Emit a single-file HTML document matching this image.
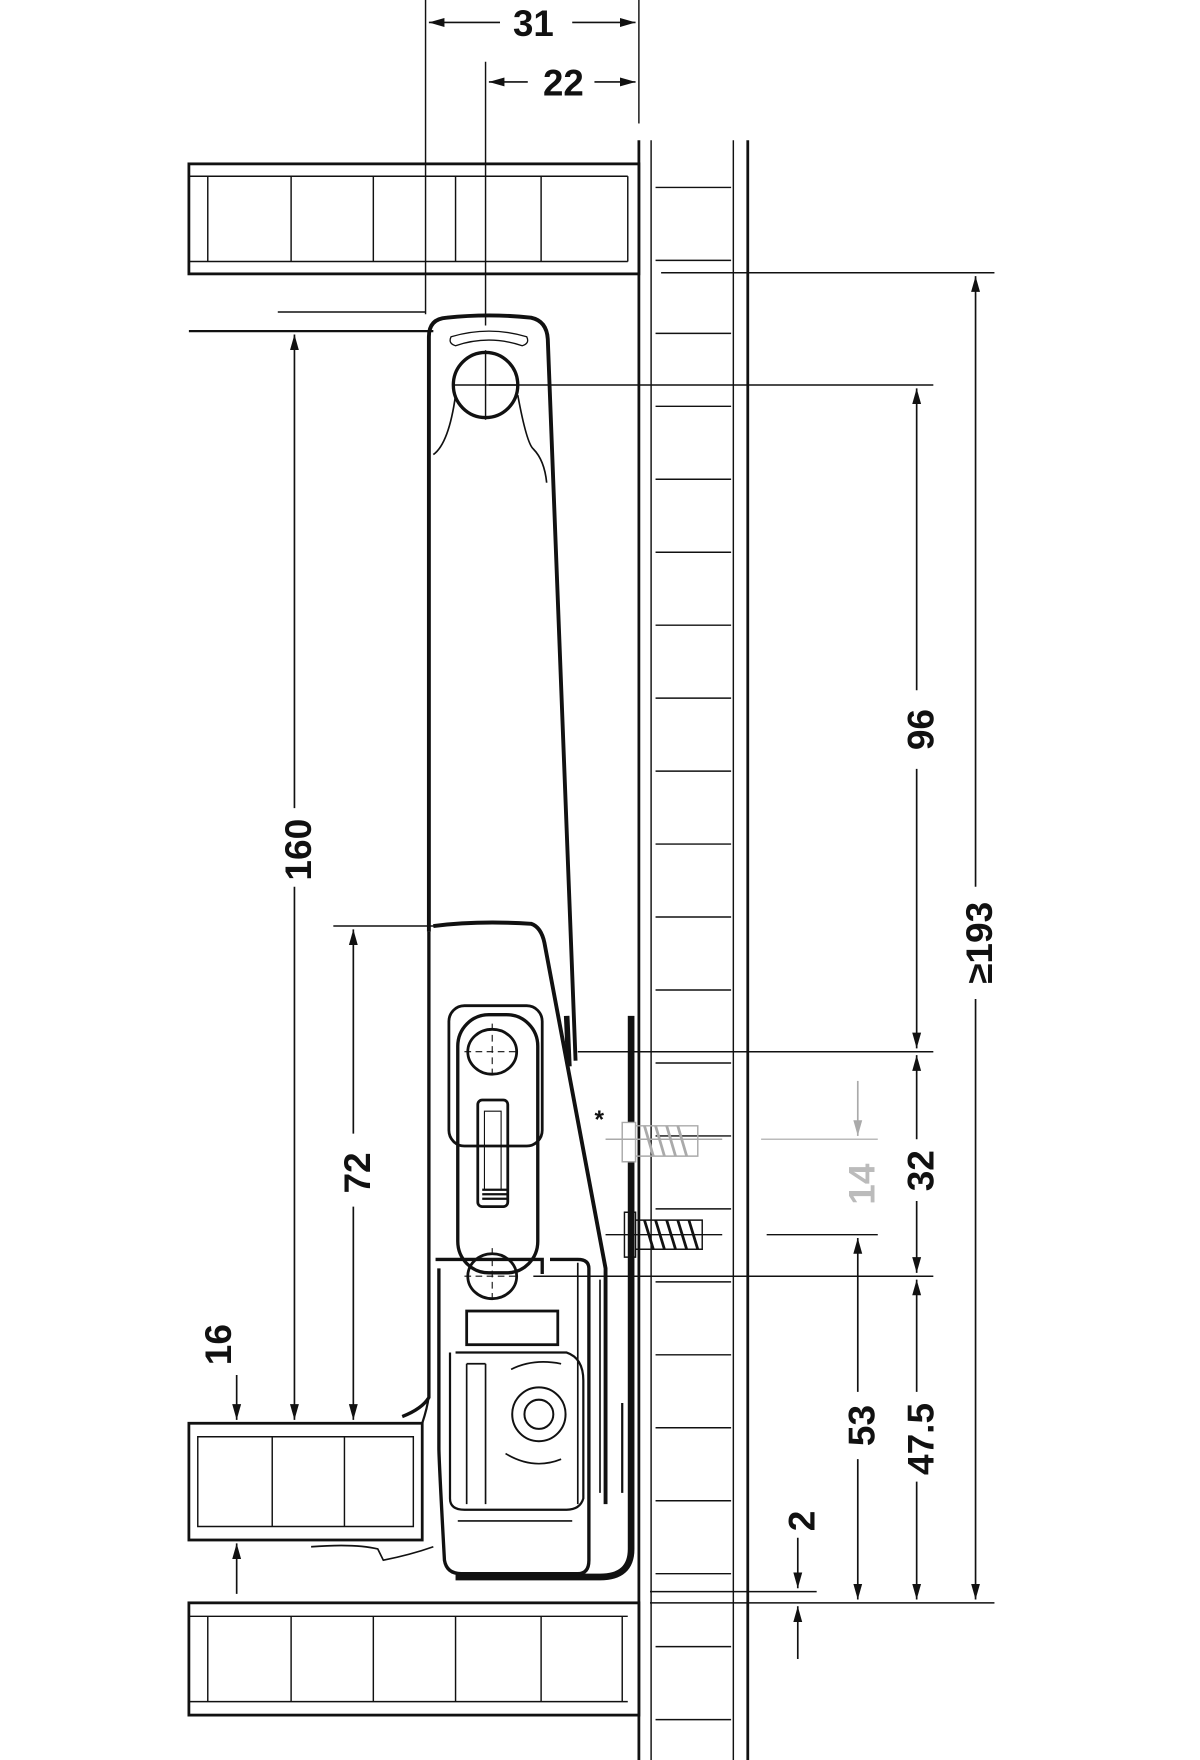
<!DOCTYPE html>
<html><head><meta charset="utf-8"><style>
html,body{margin:0;padding:0;background:#fff;}
svg{display:block;}
text{font-family:"Liberation Sans",sans-serif;font-weight:bold;fill:#111;}
</style></head><body>
<svg width="1200" height="1760" viewBox="0 0 1080 1568" preserveAspectRatio="none" xmlns="http://www.w3.org/2000/svg">
<defs>
<marker id="a" viewBox="0 0 14 10" refX="14" refY="5" markerWidth="14" markerHeight="10" orient="auto-start-reverse" markerUnits="userSpaceOnUse"><path d="M0,1 L14,5 L0,9 z" fill="#111"/></marker>
<marker id="g" viewBox="0 0 14 10" refX="14" refY="5" markerWidth="14" markerHeight="10" orient="auto-start-reverse" markerUnits="userSpaceOnUse"><path d="M0,1 L14,5 L0,9 z" fill="#aaa"/></marker>
</defs>
<g stroke="#111" fill="none" stroke-width="1.3">
<line x1="383" y1="0" x2="383" y2="280"/>
<line x1="437" y1="55" x2="437" y2="290"/>
<line x1="575" y1="0" x2="575" y2="110"/>
<line x1="386" y1="20" x2="450" y2="20" marker-start="url(#a)" stroke-width="1.5"/>
<line x1="515" y1="20" x2="572" y2="20" marker-end="url(#a)" stroke-width="1.5"/>
<line x1="440" y1="73" x2="475" y2="73" marker-start="url(#a)" stroke-width="1.5"/>
<line x1="535" y1="73" x2="572" y2="73" marker-end="url(#a)" stroke-width="1.5"/>
<rect x="170" y="146" width="405" height="98" stroke-width="2.5"/>
<line x1="170" y1="157" x2="565" y2="157"/>
<line x1="170" y1="233" x2="565" y2="233"/>
<line x1="565" y1="157" x2="565" y2="233"/>
<path d="M187 157V233M262 157V233M336 157V233M410 157V233M487 157V233"/>
<rect x="170" y="1428" width="405" height="100" stroke-width="2.5"/>
<line x1="170" y1="1440" x2="565" y2="1440"/>
<line x1="170" y1="1516" x2="565" y2="1516"/>
<path d="M187 1440V1516M262 1440V1516M336 1440V1516M410 1440V1516M487 1440V1516M560 1440V1516"/>
<rect x="170" y="1268" width="210" height="104" stroke-width="2.5"/>
<path d="M178 1280H372V1360H178zM245 1280V1360M310 1280V1360"/>
<line x1="575" y1="125" x2="575" y2="1568" stroke-width="2.5"/>
<line x1="586" y1="125" x2="586" y2="1568"/>
<line x1="660" y1="125" x2="660" y2="1568"/>
<line x1="673" y1="125" x2="673" y2="1568" stroke-width="2.5"/>
<path d="M590 167H658M590 232H658M590 297H658M590 362H658M590 427H658M590 492H658M590 557H658M590 622H658M590 687H658M590 752H658M590 817H658M590 882H658M590 947H658M590 1012H658M590 1077H658M590 1142H658M590 1207H658M590 1272H658M590 1337H658M590 1402H658M590 1467H658M590 1532H658"/>
<line x1="595" y1="243" x2="895" y2="243"/>
<line x1="440" y1="343" x2="840" y2="343"/>
<line x1="520" y1="937" x2="840" y2="937"/>
<line x1="690" y1="1100" x2="790" y2="1100"/>
<line x1="480" y1="1137" x2="840" y2="1137"/>
<line x1="585" y1="1418" x2="735" y2="1418"/>
<line x1="585" y1="1428" x2="895" y2="1428"/>
<line x1="685" y1="1015" x2="790" y2="1015" stroke="#bbb"/>
<line x1="878" y1="246" x2="878" y2="790" marker-start="url(#a)" stroke-width="1.5"/>
<line x1="878" y1="890" x2="878" y2="1425" marker-end="url(#a)" stroke-width="1.5"/>
<line x1="825" y1="346" x2="825" y2="615" marker-start="url(#a)" stroke-width="1.5"/>
<line x1="825" y1="685" x2="825" y2="934" marker-end="url(#a)" stroke-width="1.5"/>
<line x1="825" y1="940" x2="825" y2="1015" marker-start="url(#a)" stroke-width="1.5"/>
<line x1="825" y1="1070" x2="825" y2="1134" marker-end="url(#a)" stroke-width="1.5"/>
<line x1="825" y1="1140" x2="825" y2="1240" marker-start="url(#a)" stroke-width="1.5"/>
<line x1="825" y1="1320" x2="825" y2="1425" marker-end="url(#a)" stroke-width="1.5"/>
<line x1="772" y1="1103" x2="772" y2="1240" marker-start="url(#a)" stroke-width="1.5"/>
<line x1="772" y1="1300" x2="772" y2="1425" marker-end="url(#a)" stroke-width="1.5"/>
<line x1="772" y1="963" x2="772" y2="1012" marker-end="url(#g)" stroke="#aaa" stroke-width="1.5"/>
<line x1="718" y1="1370" x2="718" y2="1415" marker-end="url(#a)" stroke-width="1.5"/>
<line x1="718" y1="1478" x2="718" y2="1431" marker-end="url(#a)" stroke-width="1.5"/>
<line x1="250" y1="278" x2="383" y2="278"/>
<line x1="170" y1="295" x2="390" y2="295" stroke-width="2"/>
<line x1="300" y1="825" x2="392" y2="825"/>
<line x1="265" y1="298" x2="265" y2="720" marker-start="url(#a)" stroke-width="1.5"/>
<line x1="265" y1="790" x2="265" y2="1265" marker-end="url(#a)" stroke-width="1.5"/>
<line x1="318" y1="828" x2="318" y2="1010" marker-start="url(#a)" stroke-width="1.5"/>
<line x1="318" y1="1075" x2="318" y2="1265" marker-end="url(#a)" stroke-width="1.5"/>
<line x1="213" y1="1225" x2="213" y2="1265" marker-end="url(#a)" stroke-width="1.5"/>
<line x1="213" y1="1420" x2="213" y2="1375" marker-end="url(#a)" stroke-width="1.5"/>
<path d="M386 830 V300 Q386 284 402 283 Q440 279 478 283 Q492 286 493 302 L518 945" stroke-width="3.5"/>
<path d="M510 905 L512 950" stroke-width="5"/>
<path d="M406 300 Q440 290 474 300 Q477 306 470 308 Q440 298 410 308 Q403 306 406 300z" stroke-width="1.2"/>
<circle cx="437" cy="343" r="29" stroke-width="3"/>
<path d="M410 352 Q404 395 390 405 M466 352 Q474 395 480 400 Q490 410 492 430" stroke-width="1.5"/>
<line x1="437" y1="312" x2="437" y2="374"/>
<line x1="408" y1="343" x2="466" y2="343"/>
<path d="M390 825 Q430 820 478 823 Q487 826 490 840 L545 1130 V1340" stroke-width="3.5"/>
<path d="M386 830 V1245 Q380 1255 362 1262" stroke-width="3"/>
<path d="M568 905 V1380 Q568 1405 540 1405 H410" stroke-width="6"/>
<path d="M560 1250 V1330" stroke-width="2"/>
<rect x="404" y="896" width="84" height="125" rx="14" stroke-width="2.5"/>
<rect x="412" y="904" width="72" height="230" rx="28" stroke-width="3"/>
<ellipse cx="443" cy="937" rx="22" ry="20" stroke-width="2.5"/>
<ellipse cx="443" cy="1137" rx="22" ry="20" stroke-width="2.5"/>
<path d="M443 912V962M418 937H468M443 1112V1162M418 1137H468" stroke-dasharray="6,4" stroke-width="1"/>
<rect x="430" y="980" width="27" height="95" rx="4" stroke-width="2.5"/>
<path d="M436 990h15v70h-15z" stroke-width="1"/>
<path d="M434 1060h22M434 1064h22M434 1068h22" stroke-width="2"/>
<path d="M392 1122 H488 V1135 M395 1130 V1290 Q395 1300 400 1390 Q402 1402 415 1402 H520 Q530 1402 530 1390 V1130 Q530 1122 520 1122 H495" stroke-width="3"/>
<rect x="420" y="1168" width="82" height="30" stroke-width="2.5"/>
<path d="M410 1205 H510 Q525 1210 525 1230 V1335 Q522 1345 510 1345 H418 Q405 1345 405 1335 V1205" stroke-width="2"/>
<path d="M420 1215 V1340 M437 1215 V1340 M420 1215 H437" stroke-width="1.5"/>
<path d="M460 1220 Q480 1210 505 1215 M455 1295 Q480 1310 505 1300" stroke-width="1.5"/>
<circle cx="485" cy="1260" r="24" stroke-width="1.8"/>
<circle cx="485" cy="1260" r="13" stroke-width="1.8"/>
<path d="M412 1355 H515" stroke-width="1.5"/>
<path d="M520 1125 V1340 M540 1140 V1330" stroke-width="1.5"/>
<path d="M280 1378 Q320 1375 340 1380 L345 1390 Q370 1385 390 1378" stroke-width="1.5"/>
<path d="M380 1268 Q386 1250 386 1240" stroke-width="2"/>
<path d="M560 1000 H572 V1035 H560z" stroke="#aaa" fill="#fff"/>
<path d="M572 1003 H628 V1030 H572" stroke="#aaa"/>
<path d="M580 1003 L588 1030 M590 1003 L598 1030 M600 1003 L608 1030 M610 1003 L618 1030" stroke="#aaa" stroke-width="2.5"/>
<line x1="545" y1="1015" x2="650" y2="1015" stroke="#aaa"/>
<path d="M562 1080 H572 V1120 H562z"/>
<path d="M572 1087 H632 V1113 H572"/>
<path d="M580 1087 L588 1113 M590 1087 L598 1113 M600 1087 L608 1113 M610 1087 L618 1113 M620 1087 L628 1113" stroke-width="2.5"/>
<line x1="545" y1="1100" x2="650" y2="1100"/>
</g>
<text x="480" y="32" font-size="33" text-anchor="middle">31</text>
<text x="507" y="85" font-size="33" text-anchor="middle">22</text>
<text transform="translate(893,840) rotate(-90)" font-size="33" text-anchor="middle">≥193</text>
<text transform="translate(840,650) rotate(-90)" font-size="33" text-anchor="middle">96</text>
<text transform="translate(840,1043) rotate(-90)" font-size="33" text-anchor="middle">32</text>
<text transform="translate(840,1282) rotate(-90)" font-size="33" text-anchor="middle">47.5</text>
<text transform="translate(787,1270) rotate(-90)" font-size="33" text-anchor="middle">53</text>
<text transform="translate(787,1055) rotate(-90)" font-size="33" text-anchor="middle" style="fill:#bbb">14</text>
<text transform="translate(733,1355) rotate(-90)" font-size="33" text-anchor="middle">2</text>
<text transform="translate(280,757) rotate(-90)" font-size="33" text-anchor="middle">160</text>
<text transform="translate(333,1045) rotate(-90)" font-size="33" text-anchor="middle">72</text>
<text transform="translate(208,1198) rotate(-90)" font-size="33" text-anchor="middle">16</text>
<text x="535" y="1005" font-size="22">*</text>
</svg>
</body></html>
